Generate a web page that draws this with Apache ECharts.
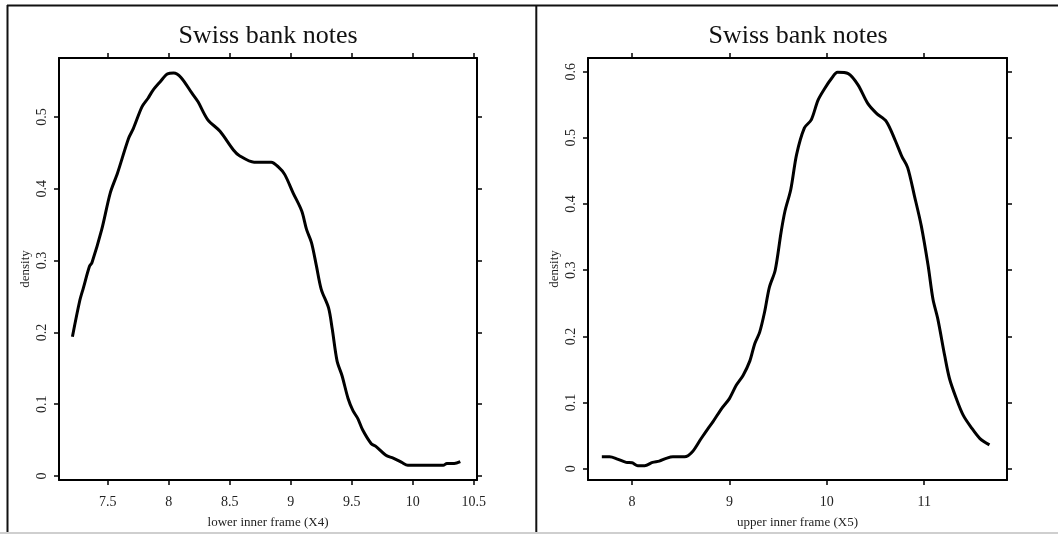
<!DOCTYPE html>
<html>
<head>
<meta charset="utf-8">
<script src="https://cdn.jsdelivr.net/npm/echarts@6/dist/echarts.min.js"></script>
<style>
html,body{margin:0;padding:0;background:#fff;}
#chart{width:1058px;height:534px;}
</style>
</head>
<body>
<div id="chart"></div>
<script>
// ---- data ----
const titleText = 'Swiss bank notes';
const leftXName = 'lower inner frame (X4)';
const rightXName = 'upper inner frame (X5)';
const yName = 'density';

const x4Values = [7.21,7.27,7.30,7.35,7.37,7.45,7.52,7.58,7.67,7.71,7.78,7.83,7.87,7.93,7.99,8.04,8.10,8.19,8.24,8.32,8.42,8.53,8.58,8.70,8.84,8.90,8.95,9.02,9.09,9.13,9.17,9.21,9.25,9.31,9.34,9.38,9.42,9.47,9.51,9.55,9.59,9.66,9.70,9.78,9.84,9.91,9.96,10.25,10.28,10.34,10.39];
const x4Density = [0.194,0.244,0.262,0.292,0.297,0.343,0.394,0.422,0.470,0.484,0.514,0.526,0.537,0.549,0.560,0.561,0.555,0.533,0.521,0.496,0.480,0.454,0.446,0.437,0.437,0.430,0.420,0.394,0.369,0.343,0.325,0.293,0.260,0.234,0.205,0.160,0.140,0.108,0.091,0.080,0.064,0.045,0.041,0.029,0.025,0.019,0.015,0.015,0.0175,0.0175,0.020];

const x5Values = [7.69,7.77,7.85,7.94,8.00,8.06,8.13,8.21,8.28,8.35,8.42,8.54,8.62,8.71,8.78,8.83,8.92,9.00,9.07,9.14,9.21,9.26,9.31,9.36,9.41,9.47,9.53,9.57,9.63,9.69,9.77,9.84,9.91,9.98,10.05,10.11,10.22,10.32,10.42,10.51,10.61,10.70,10.77,10.83,10.90,10.97,11.04,11.09,11.14,11.21,11.26,11.33,11.40,11.48,11.57,11.67];
const x5Density = [0.018,0.018,0.0146,0.0096,0.009,0.0045,0.0045,0.0096,0.0116,0.0156,0.018,0.018,0.0256,0.0457,0.0607,0.0707,0.091,0.106,0.126,0.141,0.163,0.189,0.206,0.236,0.274,0.300,0.357,0.389,0.422,0.475,0.515,0.527,0.557,0.575,0.590,0.599,0.597,0.580,0.552,0.537,0.525,0.497,0.472,0.455,0.412,0.367,0.307,0.256,0.226,0.171,0.136,0.106,0.081,0.063,0.046,0.036];

const leftXTicks = [7.5,8,8.5,9,9.5,10,10.5];
const leftYTicks = [0,0.1,0.2,0.3,0.4,0.5];
const rightXTicks = [8,9,10,11];
const rightYTicks = [0,0.1,0.2,0.3,0.4,0.5,0.6];

// ---- chart ----
const FONT = '"Liberation Serif", "DejaVu Serif", serif';
const chart = echarts.init(document.getElementById('chart'), null, {renderer:'canvas'});

function pair(xs, ys){ return xs.map((x,i)=>[x, ys[i]]); }
function fmt(v){ return String(v); }

function xAx(grid, pos, min, max, ticks, showLabel, name){
  return {
    type:'value', gridIndex:grid, position:pos, min:min, max:max,
    splitLine:{show:false},
    axisLine:{show:true, onZero:false, lineStyle:{color:'#000', width:2}},
    axisTick:{show:true, inside:false, length:5, customValues:ticks, lineStyle:{color:'#000', width:1.5}},
    axisLabel:{show:showLabel, customValues:ticks, formatter:fmt, margin:15, color:'#222', fontFamily:FONT, fontSize:14},
    name: name || '', nameLocation:'middle', nameGap:36,
    nameTextStyle:{fontFamily:FONT, fontSize:13, color:'#222'}
  };
}
function yAx(grid, pos, min, max, ticks, showLabel, name){
  return {
    type:'value', gridIndex:grid, position:pos, min:min, max:max,
    splitLine:{show:false},
    axisLine:{show:true, onZero:false, lineStyle:{color:'#000', width:2}},
    axisTick:{show:true, inside:false, length:5, customValues:ticks, lineStyle:{color:'#000', width:1.5}},
    axisLabel:{show:showLabel, customValues:ticks, formatter:fmt, rotate:90, margin:10, color:'#222', fontFamily:FONT, fontSize:14},
    name: name || '', nameLocation:'middle', nameGap:27, nameRotate:90,
    nameTextStyle:{fontFamily:FONT, fontSize:13, color:'#222'}
  };
}

const option = {
  animation:false,
  backgroundColor:'#fff',
  title:[
    {text:titleText, left:263, top:18, textAlign:'center', textStyle:{fontFamily:FONT, fontSize:26, fontWeight:'normal', color:'#111'}},
    {text:titleText, left:793, top:18, textAlign:'center', textStyle:{fontFamily:FONT, fontSize:26, fontWeight:'normal', color:'#111'}}
  ],
  grid:[
    {left:59, top:58, width:418, height:424},
    {left:588, top:58, width:419, height:424}
  ],
  xAxis:[
    xAx(0,'bottom',7.1,10.527,leftXTicks,true,leftXName),
    xAx(0,'top',7.1,10.527,leftXTicks,false),
    xAx(1,'bottom',7.548,11.85,rightXTicks,true,rightXName),
    xAx(1,'top',7.548,11.85,rightXTicks,false)
  ],
  yAxis:[
    yAx(0,'left',-0.0055,0.582,leftYTicks,true,yName),
    yAx(0,'right',-0.0055,0.582,leftYTicks,false),
    yAx(1,'left',-0.017,0.6206,rightYTicks,true,yName),
    yAx(1,'right',-0.017,0.6206,rightYTicks,false)
  ],
  series:[
    {type:'line', xAxisIndex:0, yAxisIndex:0, data:pair(x4Values,x4Density), showSymbol:false, smooth:0.3,
     lineStyle:{color:'#000', width:3}},
    {type:'line', xAxisIndex:2, yAxisIndex:2, data:pair(x5Values,x5Density), showSymbol:false, smooth:0.3,
     lineStyle:{color:'#000', width:3}}
  ],
  graphic:[
    {type:'line', shape:{x1:7, y1:5.5, x2:1058, y2:5.5}, style:{stroke:'#111', lineWidth:2}},
    {type:'line', shape:{x1:7.5, y1:5, x2:7.5, y2:532}, style:{stroke:'#111', lineWidth:2}},
    {type:'line', shape:{x1:536.3, y1:5, x2:536.3, y2:532}, style:{stroke:'#111', lineWidth:2}},
    {type:'line', shape:{x1:0, y1:533, x2:1058, y2:533}, style:{stroke:'#cfcfcf', lineWidth:2}}
  ]
};
chart.setOption(option);
</script>
</body>
</html>
